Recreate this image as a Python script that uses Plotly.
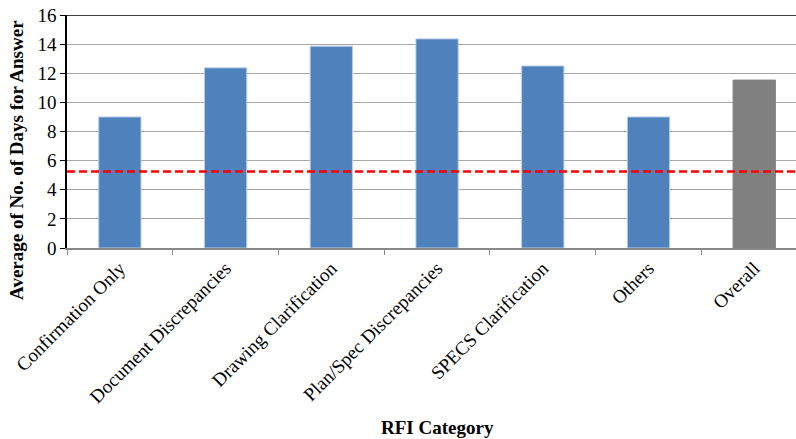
import plotly.graph_objects as go

categories = ["Confirmation Only", "Document Discrepancies", "Drawing Clarification",
              "Plan/Spec Discrepancies", "SPECS Clarification", "Others", "Overall"]
avg_days = [9.0, 12.37, 13.86, 14.36, 12.5, 9.0, 11.53]
bar_colors = ["#4F81BD"] * 6 + ["#808080"]
line_colors = ["#B9CDE5"] * 6 + ["#808080"]
reference_level = 5.25
y_ticks = [0, 2, 4, 6, 8, 10, 12, 14, 16]

FONT = "Liberation Serif, Times New Roman, serif"

fig = go.Figure()
fig.add_trace(go.Bar(
    x=categories, y=avg_days,
    marker=dict(color=bar_colors, line=dict(color=line_colors, width=1)),
    width=0.4, showlegend=False,
))

fig.add_shape(type="line", xref="paper", x0=0, x1=1, yref="y", y0=reference_level, y1=reference_level,
              line=dict(color="#FF0000", width=2.5, dash="8px,4px"))
fig.add_shape(type="line", xref="paper", x0=0, x1=1, yref="y", y0=16, y1=16,
              line=dict(color="#000000", width=1.5))

fig.update_layout(
    width=796, height=439,
    margin=dict(l=67, r=0, t=15, b=191),
    paper_bgcolor="white", plot_bgcolor="white",
    font=dict(family=FONT, size=18, color="black"),
    xaxis=dict(
        type="category", range=[-0.5, 6.395],
        tickangle=-45, tickson="boundaries", ticks="outside", ticklen=5,
        tickcolor="#888888", showline=True, linecolor="#888888", linewidth=1.5,
        showgrid=False, tickfont=dict(family=FONT, size=19),
    ),
    yaxis=dict(
        range=[0, 16], tickvals=y_ticks, ticks="outside", ticklen=5, tickcolor="black",
        showline=True, linecolor="black", linewidth=1.5,
        showgrid=True, gridcolor="#A6A6A6", gridwidth=1.2, zeroline=False,
        tickfont=dict(family=FONT, size=19),
    ),
    annotations=[
        dict(text="<b>Average of No. of Days for Answer</b>", textangle=-90,
             xref="paper", yref="paper", x=0, xshift=-50, y=0.378,
             xanchor="center", yanchor="middle", showarrow=False,
             font=dict(family=FONT, size=19)),
        dict(text="<b>RFI Category</b>", xref="paper", yref="paper", x=0.5, xshift=6,
             y=0, yshift=-179, xanchor="center", yanchor="middle", showarrow=False,
             font=dict(family=FONT, size=19)),
    ],
)

fig.write_html("out.html")
